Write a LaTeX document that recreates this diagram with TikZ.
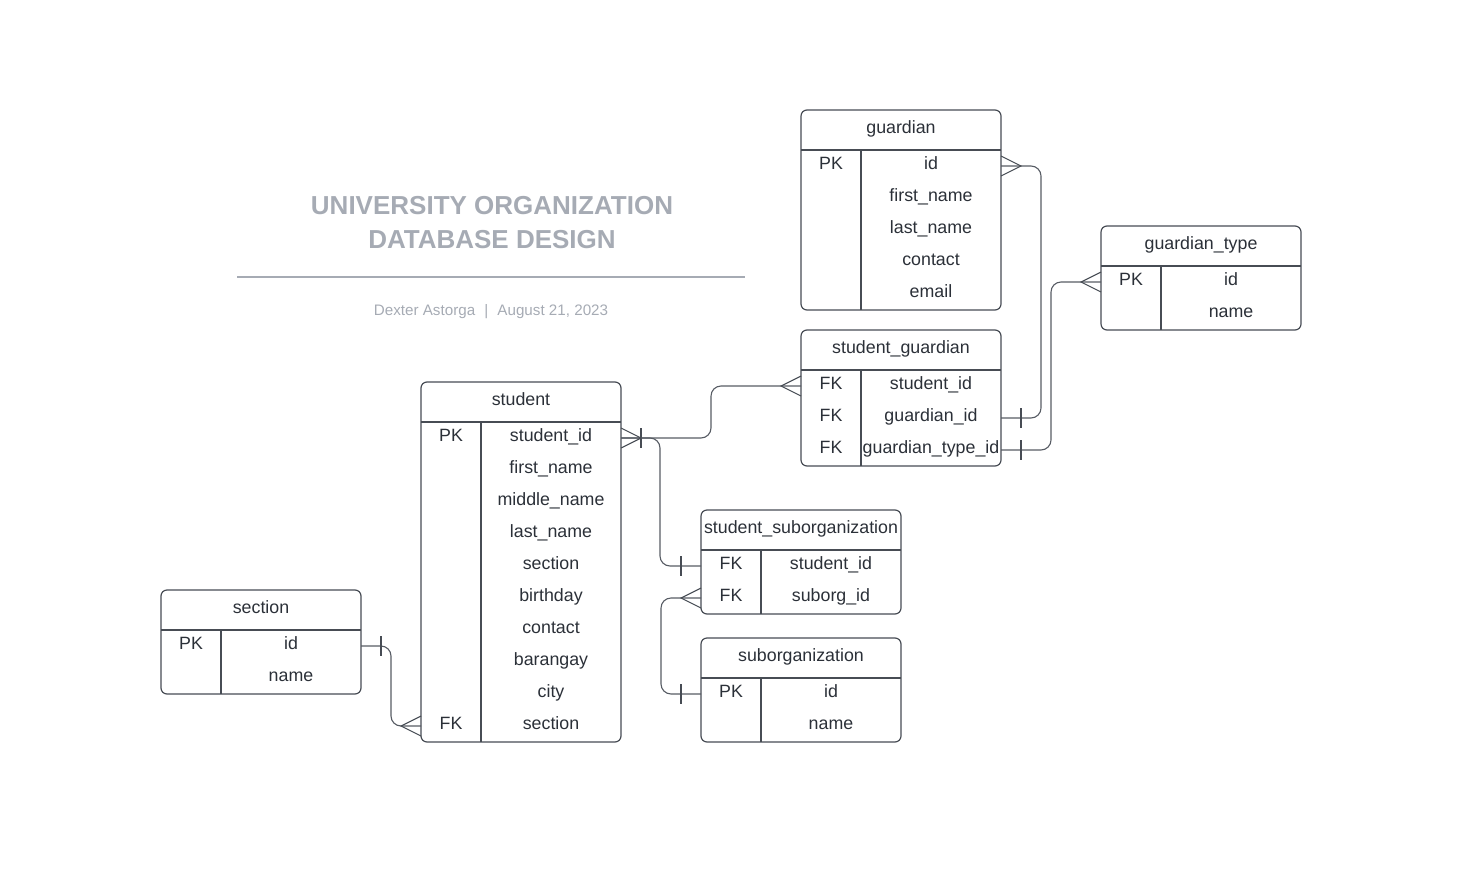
\documentclass[tikz,border=0pt]{standalone}
\usepackage{fontspec}
\setmainfont{Liberation Sans}
\usepackage{tikz}
\usetikzlibrary{positioning,calc}
\definecolor{erink}{HTML}{2B3038}
\definecolor{erline}{HTML}{474C54}
\definecolor{linkgray}{HTML}{575C64}
\definecolor{titlegray}{HTML}{A6ABB4}
\newcommand{\manyend}[2]{\draw[crow] ($(#1)+(0,-10)$) -- ($(#1)+(#2*20,0)$) -- ($(#1)+(0,10)$);}
\newcommand{\oneend}[2]{\draw[crow] ($(#1)+(#2*20,-10)$) -- ($(#1)+(#2*20,10)$);}

\begin{document}
\begin{tikzpicture}[
  x=1pt, y=-1pt,
  tbl/.style={draw=erline, line width=1.2pt, rounded corners=6pt, minimum width=200pt, inner sep=0pt, outer sep=0pt, anchor=north west},
  head/.style={font=\fontsize{17.8}{20}\selectfont, text=erink, text height=12pt, text depth=5pt, inner sep=0pt},
  key/.style={minimum width=60pt, minimum height=32pt, inner sep=0pt, outer sep=0pt, font=\fontsize{17.8}{20}\selectfont, text=erink, text height=12pt, text depth=5pt},
  field/.style={key, minimum width=140pt},
  rule/.style={draw=erline, line width=1.2pt},
  link/.style={draw=linkgray, line width=1.1pt, rounded corners=10pt},
  crow/.style={draw=erline, line width=1.1pt},
  title/.style={font=\bfseries\fontsize{26}{30}\selectfont, text=titlegray, anchor=base},
  byline/.style={font=\fontsize{15.2}{18}\selectfont, text=titlegray, anchor=base}
]
\useasboundingbox (0,0) rectangle (1477,894);

\node[title] (title1) at (492,214) {UNIVERSITY ORGANIZATION};
\node[title] (title2) at (492,248) {DATABASE DESIGN};
\draw[titlegray, line width=2pt] (237,277) -- (745,277);
\node[byline] (author) at (491,315) {Dexter Astorga\hspace{0.6em}|\hspace{0.6em}August 21, 2023};

\node[tbl, minimum height=200pt] (guardian) at (801,110) {};
\node[head] (g-head) at ($(guardian.north)+(0,20)$) {guardian};
\draw[rule] ($(guardian.north west)+(0,40)$) -- ($(guardian.north east)+(0,40)$);
\draw[rule] ($(guardian.north west)+(60,40)$) -- ($(guardian.south west)+(60,0)$);
\node[key, anchor=north west] (g-k1) at ($(guardian.north west)+(0,40)$) {PK};
\node[field, right=0pt of g-k1] (g-n1) {id};
\node[key, below=0pt of g-k1] (g-k2) {};
\node[field, right=0pt of g-k2] (g-n2) {first\_name};
\node[key, below=0pt of g-k2] (g-k3) {};
\node[field, right=0pt of g-k3] (g-n3) {last\_name};
\node[key, below=0pt of g-k3] (g-k4) {};
\node[field, right=0pt of g-k4] (g-n4) {contact};
\node[key, below=0pt of g-k4] (g-k5) {};
\node[field, right=0pt of g-k5] (g-n5) {email};

\node[tbl, minimum height=104pt] (gtype) at (1101,226) {};
\node[head] (gt-head) at ($(gtype.north)+(0,20)$) {guardian\_type};
\draw[rule] ($(gtype.north west)+(0,40)$) -- ($(gtype.north east)+(0,40)$);
\draw[rule] ($(gtype.north west)+(60,40)$) -- ($(gtype.south west)+(60,0)$);
\node[key, anchor=north west] (gt-k1) at ($(gtype.north west)+(0,40)$) {PK};
\node[field, right=0pt of gt-k1] (gt-n1) {id};
\node[key, below=0pt of gt-k1] (gt-k2) {};
\node[field, right=0pt of gt-k2] (gt-n2) {name};

\node[tbl, minimum height=136pt] (sguardian) at (801,330) {};
\node[head] (sg-head) at ($(sguardian.north)+(0,20)$) {student\_guardian};
\draw[rule] ($(sguardian.north west)+(0,40)$) -- ($(sguardian.north east)+(0,40)$);
\draw[rule] ($(sguardian.north west)+(60,40)$) -- ($(sguardian.south west)+(60,0)$);
\node[key, anchor=north west] (sg-k1) at ($(sguardian.north west)+(0,40)$) {FK};
\node[field, right=0pt of sg-k1] (sg-n1) {student\_id};
\node[key, below=0pt of sg-k1] (sg-k2) {FK};
\node[field, right=0pt of sg-k2] (sg-n2) {guardian\_id};
\node[key, below=0pt of sg-k2] (sg-k3) {FK};
\node[field, right=0pt of sg-k3] (sg-n3) {guardian\_type\_id};

\node[tbl, minimum height=360pt] (student) at (421,382) {};
\node[head] (stu-head) at ($(student.north)+(0,20)$) {student};
\draw[rule] ($(student.north west)+(0,40)$) -- ($(student.north east)+(0,40)$);
\draw[rule] ($(student.north west)+(60,40)$) -- ($(student.south west)+(60,0)$);
\node[key, anchor=north west] (stu-k1) at ($(student.north west)+(0,40)$) {PK};
\node[field, right=0pt of stu-k1] (stu-n1) {student\_id};
\node[key, below=0pt of stu-k1] (stu-k2) {};
\node[field, right=0pt of stu-k2] (stu-n2) {first\_name};
\node[key, below=0pt of stu-k2] (stu-k3) {};
\node[field, right=0pt of stu-k3] (stu-n3) {middle\_name};
\node[key, below=0pt of stu-k3] (stu-k4) {};
\node[field, right=0pt of stu-k4] (stu-n4) {last\_name};
\node[key, below=0pt of stu-k4] (stu-k5) {};
\node[field, right=0pt of stu-k5] (stu-n5) {section};
\node[key, below=0pt of stu-k5] (stu-k6) {};
\node[field, right=0pt of stu-k6] (stu-n6) {birthday};
\node[key, below=0pt of stu-k6] (stu-k7) {};
\node[field, right=0pt of stu-k7] (stu-n7) {contact};
\node[key, below=0pt of stu-k7] (stu-k8) {};
\node[field, right=0pt of stu-k8] (stu-n8) {barangay};
\node[key, below=0pt of stu-k8] (stu-k9) {};
\node[field, right=0pt of stu-k9] (stu-n9) {city};
\node[key, below=0pt of stu-k9] (stu-k10) {FK};
\node[field, right=0pt of stu-k10] (stu-n10) {section};

\node[tbl, minimum height=104pt] (ssub) at (701,510) {};
\node[head] (sso-head) at ($(ssub.north)+(0,20)$) {student\_suborganization};
\draw[rule] ($(ssub.north west)+(0,40)$) -- ($(ssub.north east)+(0,40)$);
\draw[rule] ($(ssub.north west)+(60,40)$) -- ($(ssub.south west)+(60,0)$);
\node[key, anchor=north west] (sso-k1) at ($(ssub.north west)+(0,40)$) {FK};
\node[field, right=0pt of sso-k1] (sso-n1) {student\_id};
\node[key, below=0pt of sso-k1] (sso-k2) {FK};
\node[field, right=0pt of sso-k2] (sso-n2) {suborg\_id};

\node[tbl, minimum height=104pt] (suborg) at (701,638) {};
\node[head] (so-head) at ($(suborg.north)+(0,20)$) {suborganization};
\draw[rule] ($(suborg.north west)+(0,40)$) -- ($(suborg.north east)+(0,40)$);
\draw[rule] ($(suborg.north west)+(60,40)$) -- ($(suborg.south west)+(60,0)$);
\node[key, anchor=north west] (so-k1) at ($(suborg.north west)+(0,40)$) {PK};
\node[field, right=0pt of so-k1] (so-n1) {id};
\node[key, below=0pt of so-k1] (so-k2) {};
\node[field, right=0pt of so-k2] (so-n2) {name};

\node[tbl, minimum height=104pt] (section) at (161,590) {};
\node[head] (sec-head) at ($(section.north)+(0,20)$) {section};
\draw[rule] ($(section.north west)+(0,40)$) -- ($(section.north east)+(0,40)$);
\draw[rule] ($(section.north west)+(60,40)$) -- ($(section.south west)+(60,0)$);
\node[key, anchor=north west] (sec-k1) at ($(section.north west)+(0,40)$) {PK};
\node[field, right=0pt of sec-k1] (sec-n1) {id};
\node[key, below=0pt of sec-k1] (sec-k2) {};
\node[field, right=0pt of sec-k2] (sec-n2) {name};

\draw[link] (stu-n1.east) -- ++(90,0) |- (sg-k1.west);
\oneend{stu-n1.east}{1}
\manyend{sg-k1.west}{-1}
\draw[link] (stu-n1.east) -- ++(39,0) |- (sso-k1.west);
\manyend{stu-n1.east}{1}
\oneend{sso-k1.west}{-1}
\draw[link] (g-n1.east) -- ++(40,0) |- (sg-n2.east);
\manyend{g-n1.east}{1}
\oneend{sg-n2.east}{1}
\draw[link] (gt-k1.west) -- ++(-50,0) |- (sg-n3.east);
\manyend{gt-k1.west}{-1}
\oneend{sg-n3.east}{1}
\draw[link] (sso-k2.west) -- ++(-40,0) |- (so-k1.west);
\manyend{sso-k2.west}{-1}
\oneend{so-k1.west}{-1}
\draw[link] (sec-n1.east) -- ++(30,0) |- (stu-k10.west);
\oneend{sec-n1.east}{1}
\manyend{stu-k10.west}{-1}
\end{tikzpicture}
\end{document}
